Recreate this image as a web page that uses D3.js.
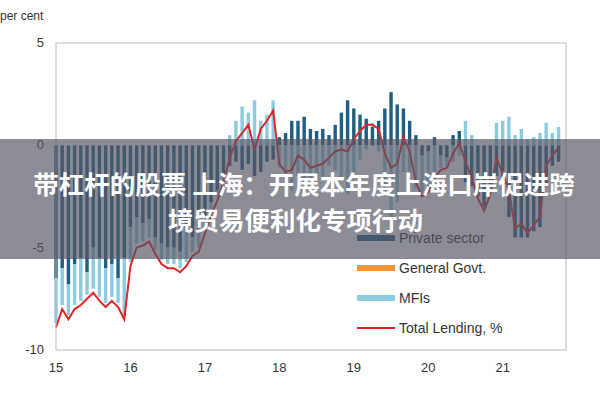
<!DOCTYPE html>
<html><head><meta charset="utf-8">
<script src="https://cdn.jsdelivr.net/npm/d3@7"></script>
<style>body{margin:0;background:#fff}text{font-family:"Liberation Sans",Arial,sans-serif}</style>
</head><body>
<script>
var years = ["15","16","17","18","19","20","21"];
var yTicks = [5, 0, -5, -10];
var total = [-8.9,-8.0,-8.5,-8.0,-7.8,-7.5,-7.2,-7.6,-7.9,-7.6,-7.9,-8.5,
  -5.9,-5.0,-4.9,-4.7,-5.3,-5.8,-6.0,-6.0,-6.2,-5.9,-5.4,-5.2,
  -4.3,-3.4,-2.7,-1.8,-0.6,0.2,0.6,1.0,-0.2,0.8,1.2,1.7,
  -0.9,-1.3,-1.2,-0.5,-0.7,-1.1,-1.0,-0.9,-0.6,-0.3,-0.2,-0.3,
  0.3,0.7,1.0,1.0,0.8,-0.4,-1.1,-0.9,0.4,-0.3,-1.8,-2.5,
  -2.3,-1.6,-1.2,-1.1,-0.4,0.1,-0.8,-1.6,-2.6,-3.2,-2.4,-0.6,
  -1.4,-2.2,-4.1,-3.8,-4.3,-3.9,-3.5,-1.0,-0.5,-0.1];
var privateSector = [-6.5,-6.0,-6.8,-5.8,-5.5,-6.2,-5.0,-5.5,-6.0,-5.8,-6.5,-5.5,
  -4.0,-3.5,-3.8,-3.6,-4.5,-4.8,-5.0,-5.0,-5.2,-4.2,-4.5,-4.0,
  -3.5,-2.8,-2.2,-1.5,-1.0,-0.8,-1.2,-0.9,-1.5,-1.3,-0.8,-0.7,
  0.4,0.6,1.2,1.2,1.4,0.8,0.7,0.8,0.5,1.0,1.6,2.2,
  1.8,1.5,1.3,0.9,1.2,1.8,2.6,2.0,1.8,1.2,0.5,-0.5,
  -0.3,0.4,-0.5,-0.6,0.5,0.7,-1.8,-2.0,-2.5,-3.0,-2.0,-1.5,
  -2.5,-3.5,-4.5,-4.5,-4.5,-4.2,-4.0,-2.0,-1.0,-0.8];
var mfis = [-2.2,-1.8,-1.5,-2.0,-2.1,-1.1,-2.0,-1.9,-1.7,-1.6,-1.2,-2.8,
  -1.7,-1.3,-0.9,-0.9,-0.6,-0.8,-0.8,-0.8,-0.8,-1.5,-0.7,-1.0,
  -0.6,-0.4,-0.3,-0.2,0.5,1.2,1.9,1.6,2.2,1.2,1.5,2.2,
  -1.1,-1.7,-2.2,-1.5,-2.0,-1.7,-1.6,-1.6,-1.0,-1.2,-1.6,-2.4,
  -1.4,-0.7,-0.2,0.2,-0.3,-2.1,-3.6,-2.8,-1.3,-1.4,-2.1,-1.8,
  -1.9,-1.9,-0.6,-0.4,-0.8,-0.5,1.2,0.5,0.0,-0.1,-0.3,1.1,
  1.2,1.4,0.5,0.8,0.3,0.4,0.6,1.1,0.6,0.9];
var govt = total.map(function(){ return 0; });

var keys = ["priv", "govt", "mfi"];
var colors = {priv: "#1f5f82", govt: "#f4943a", mfi: "#8ccbe0"};
var rows = total.map(function(t, i){
  return {t: 15 + i / 12, priv: privateSector[i], govt: govt[i], mfi: mfis[i], total: t};
});

var svg = d3.select("body").append("svg").attr("width", 600).attr("height", 400);
var x = d3.scaleLinear().domain([15, 21.85]).range([56, 566]);
var y = d3.scaleLinear().domain([-10, 5]).range([350, 43]);
var bw = (x(15 + 1/12) - x(15)) * 0.55;

svg.append("text").attr("x", 0).attr("y", 20).attr("font-size", 12).attr("fill", "#333").text("per cent");

svg.selectAll(".yt").data(yTicks).enter().append("text")
  .attr("x", 44).attr("y", function(d){ return y(d) + 4; })
  .attr("text-anchor", "end").attr("font-size", 13).attr("fill", "#333")
  .text(function(d){ return d; });
svg.selectAll(".xt").data(years).enter().append("text")
  .attr("x", function(d){ return x(+d); }).attr("y", 372)
  .attr("text-anchor", "middle").attr("font-size", 13).attr("fill", "#333")
  .text(function(d){ return d; });

var series = d3.stack().keys(keys).offset(d3.stackOffsetDiverging)(rows);
svg.selectAll(".s").data(series).enter().append("g")
  .attr("fill", function(d){ return colors[d.key]; })
  .selectAll("rect").data(function(d){ return d; }).enter().append("rect")
  .attr("x", function(d){ return x(d.data.t) - bw / 2; })
  .attr("width", bw)
  .attr("y", function(d){ return y(Math.max(d[0], d[1])); })
  .attr("height", function(d){ return Math.abs(y(d[0]) - y(d[1])); });

svg.append("path").datum(rows)
  .attr("fill", "none").attr("stroke", "#e0262b").attr("stroke-width", 2)
  .attr("d", d3.line().x(function(d){ return x(d.t); }).y(function(d){ return y(d.total); }));

svg.append("rect").attr("x", 56).attr("y", 43).attr("width", 510).attr("height", 307)
  .attr("fill", "none").attr("stroke", "#bbb");

var legend = [["Private sector", colors.priv, 6], ["General Govt.", colors.govt, 6], ["MFIs", colors.mfi, 6], ["Total Lending, %", "#e0262b", 2]];
var lg = svg.selectAll(".lg").data(legend).enter().append("g")
  .attr("transform", function(d, i){ return "translate(357," + (238 + i * 30) + ")"; });
lg.append("rect").attr("width", 38).attr("y", function(d){ return -d[2] / 2; })
  .attr("height", function(d){ return d[2]; }).attr("fill", function(d){ return d[1]; });
lg.append("text").attr("x", 42).attr("y", 5).attr("font-size", 14).attr("fill", "#333")
  .text(function(d){ return d[0]; });

svg.append("rect").attr("x", 0).attr("y", 139).attr("width", 600).attr("height", 120)
  .attr("fill", "rgba(85,85,100,0.68)");
svg.append("text").attr("x", 304).attr("y", 194).attr("text-anchor", "middle")
  .attr("font-size", 25.5).attr("font-weight", "bold").attr("fill", "#fff")
  .style("font-family", "'Noto Sans CJK SC'").text("带杠杆的股票 上海：开展本年度上海口岸促进跨");
svg.append("text").attr("x", 168).attr("y", 230)
  .attr("font-size", 25.5).attr("font-weight", "bold").attr("fill", "#fff")
  .style("font-family", "'Noto Sans CJK SC'").text("境贸易便利化专项行动");
</script>
</body></html>
